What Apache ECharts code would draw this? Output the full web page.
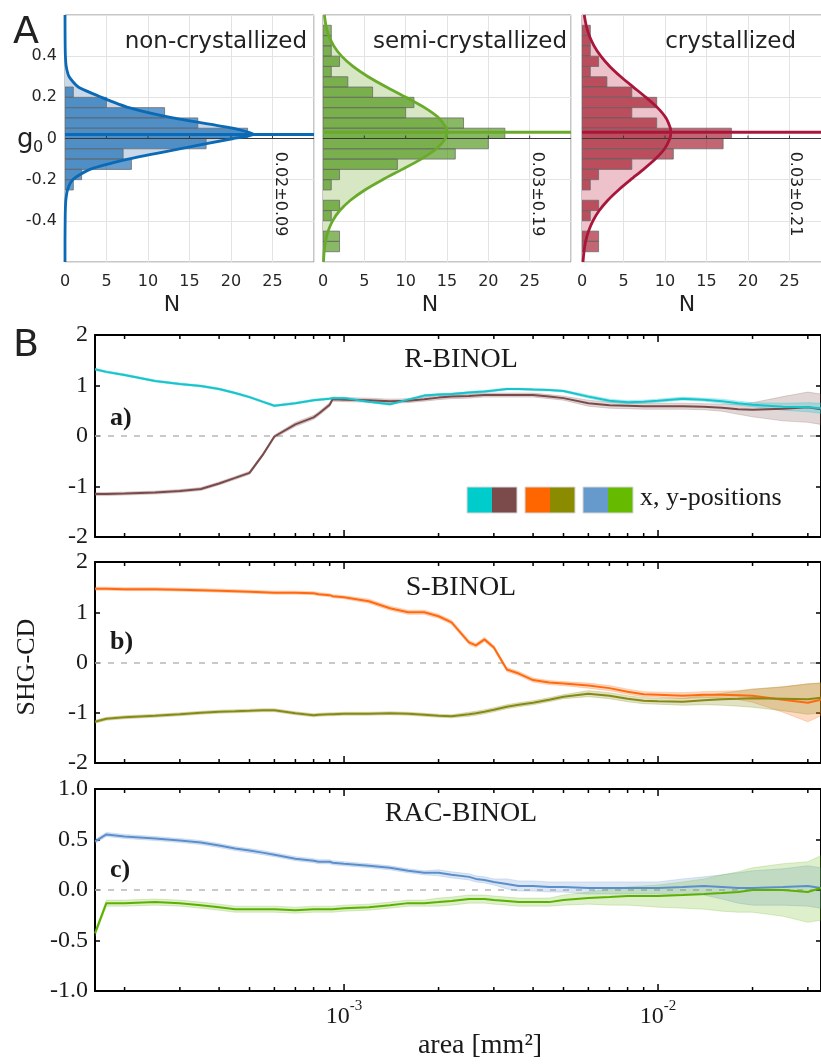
<!DOCTYPE html>
<html><head><meta charset="utf-8">
<script src="https://cdn.jsdelivr.net/npm/echarts@6/dist/echarts.min.js"></script>
<style>html,body{margin:0;padding:0;background:#fff}#c{width:821px;height:1064px}</style>
</head><body><div id="c"></div>
<script>
// ================= Panel A : histograms of g0 =================
const binEdges = [-0.6,-0.55,-0.5,-0.45,-0.4,-0.35,-0.3,-0.25,-0.2,-0.15,-0.1,-0.05,0,0.05,0.1,0.15,0.2,0.25,0.3,0.35,0.4,0.45,0.5,0.55,0.6];
const countsNon  = [0,0,0,0,0,0,0,1,2,8,7,17,22,16,12,5,1,0,0,0,0,0,0,0];
const countsSemi = [0,2,2,0,1,2,0,1,2,9,16,20,22,17,10,11,6,3,1,2,1,1,1,0];
const countsCry  = [0,2,2,0,1,2,0,1,2,6,11,17,18,9,6,9,6,3,1,2,1,1,1,0];
const fitYNon = [0.6,0.5,0.45,0.4,0.35,0.3,0.25,0.2,0.15,0.1,0.05,0.02,0,-0.05,-0.1,-0.15,-0.2,-0.25,-0.3,-0.35,-0.4,-0.5,-0.6];
const fitNNon = [0,0.01,0.02,0.05,0.15,0.5,1.6,4.4,7.7,13.0,20.2,22.8,20.3,13.8,7.6,3.0,0.93,0.3,0.1,0.04,0.02,0,0];
const fitY = [0.6,0.55,0.5,0.45,0.4,0.35,0.3,0.25,0.2,0.15,0.1,0.05,0.03,0,-0.05,-0.1,-0.15,-0.2,-0.25,-0.3,-0.35,-0.4,-0.45,-0.5,-0.55,-0.6];
const fitNSemi = [0.17,0.35,0.70,1.30,2.25,3.63,5.46,7.67,10.05,12.29,14.01,14.92,15,14.81,13.73,11.87,9.58,7.21,5.06,3.32,2.03,1.16,0.62,0.31,0.14,0.06];
const fitNCry  = [0.27,0.50,0.87,1.45,2.27,3.35,4.68,6.18,7.71,9.09,10.12,10.65,10.7,10.59,9.95,8.83,7.41,5.87,4.40,3.11,2.08,1.32,0.79,0.44,0.24,0.12];
const g0Mean = [0.02, 0.03, 0.03];
const g0Stats = ['0.02±0.09', '0.03±0.19', '0.03±0.21'];
const histTitles = ['non-crystallized', 'semi-crystallized', 'crystallized'];
const nTickVals = [5, 10, 15, 20, 25];

// ================= Panel B : SHG-CD vs area =================
const area = [1.61e-4,1.75e-4,2e-4,2.5e-4,3e-4,3.5e-4,4e-4,4.5e-4,5e-4,5.5e-4,6e-4,7e-4,8e-4,8.3e-4,9e-4,9.2e-4,1e-3,1.2e-3,1.4e-3,1.6e-3,1.8e-3,2e-3,2.2e-3,2.5e-3,2.63e-3,2.8e-3,3e-3,3.3e-3,3.6e-3,4e-3,4.5e-3,5e-3,6e-3,7e-3,8e-3,9e-3,1e-2,1.2e-2,1.4e-2,1.6e-2,1.8e-2,2e-2,2.5e-2,3e-2,3.3e-2];
const rBinolX = [1.32,1.27,1.21,1.09,1.03,0.99,0.93,0.85,0.77,0.68,0.60,0.65,0.71,0.72,0.74,0.75,0.75,0.68,0.63,0.72,0.80,0.82,0.83,0.86,0.87,0.88,0.90,0.93,0.93,0.92,0.91,0.89,0.78,0.70,0.67,0.68,0.70,0.74,0.72,0.69,0.65,0.62,0.58,0.57,0.55];
const rBinolXErr = [0.02,0.02,0.02,0.02,0.02,0.02,0.02,0.02,0.02,0.02,0.02,0.02,0.02,0.02,0.02,0.02,0.02,0.02,0.02,0.02,0.02,0.02,0.02,0.02,0.02,0.02,0.02,0.02,0.02,0.02,0.02,0.02,0.03,0.03,0.03,0.03,0.03,0.03,0.03,0.04,0.04,0.04,0.07,0.09,0.1];
const rBinolY = [-1.15,-1.15,-1.14,-1.12,-1.09,-1.05,-0.94,-0.83,-0.73,-0.38,-0.01,0.23,0.37,0.44,0.62,0.73,0.72,0.71,0.69,0.70,0.73,0.76,0.78,0.79,0.80,0.81,0.81,0.81,0.81,0.81,0.78,0.75,0.65,0.61,0.60,0.59,0.59,0.59,0.58,0.56,0.53,0.52,0.54,0.57,0.53];
const rBinolYErr = [0.03,0.03,0.03,0.03,0.03,0.03,0.03,0.03,0.03,0.03,0.03,0.04,0.04,0.04,0.04,0.04,0.04,0.04,0.04,0.04,0.04,0.04,0.04,0.04,0.04,0.04,0.04,0.04,0.04,0.04,0.04,0.04,0.06,0.06,0.06,0.06,0.06,0.06,0.06,0.07,0.1,0.14,0.24,0.3,0.3];
const sBinolX = [1.47,1.47,1.46,1.46,1.45,1.44,1.43,1.42,1.41,1.40,1.39,1.39,1.38,1.36,1.34,1.32,1.30,1.22,1.08,1.00,1.00,0.92,0.80,0.40,0.34,0.46,0.30,-0.14,-0.22,-0.35,-0.40,-0.42,-0.46,-0.51,-0.58,-0.63,-0.64,-0.66,-0.64,-0.64,-0.65,-0.66,-0.74,-0.80,-0.74];
const sBinolXErr = [0.03,0.03,0.03,0.03,0.03,0.03,0.03,0.03,0.03,0.03,0.03,0.03,0.03,0.03,0.03,0.03,0.03,0.04,0.04,0.04,0.04,0.04,0.04,0.04,0.04,0.04,0.04,0.04,0.04,0.04,0.04,0.04,0.05,0.05,0.05,0.05,0.05,0.06,0.06,0.07,0.09,0.13,0.25,0.38,0.32];
const sBinolY = [-1.18,-1.12,-1.09,-1.06,-1.03,-1.00,-0.98,-0.97,-0.96,-0.95,-0.95,-1.01,-1.05,-1.04,-1.03,-1.03,-1.02,-1.02,-1.01,-1.02,-1.04,-1.06,-1.07,-1.03,-1.01,-0.98,-0.94,-0.88,-0.84,-0.80,-0.74,-0.68,-0.62,-0.66,-0.72,-0.76,-0.77,-0.78,-0.75,-0.73,-0.72,-0.71,-0.72,-0.73,-0.70];
const sBinolYErr = [0.03,0.03,0.03,0.03,0.03,0.03,0.03,0.03,0.03,0.03,0.03,0.03,0.03,0.03,0.03,0.03,0.03,0.03,0.03,0.03,0.03,0.03,0.03,0.04,0.04,0.04,0.04,0.04,0.04,0.04,0.04,0.04,0.06,0.06,0.06,0.06,0.06,0.07,0.09,0.12,0.15,0.18,0.24,0.3,0.3];
const racBinolX = [0.48,0.55,0.53,0.51,0.49,0.47,0.44,0.41,0.39,0.37,0.35,0.31,0.29,0.28,0.28,0.27,0.26,0.24,0.22,0.19,0.17,0.17,0.15,0.13,0.11,0.10,0.08,0.06,0.04,0.04,0.03,0.03,0.02,0.02,0.02,0.02,0.02,0.03,0.04,0.03,0.02,0.02,0.03,0.04,0.02];
const racBinolXErr = [0.02,0.02,0.02,0.02,0.02,0.02,0.02,0.02,0.02,0.02,0.02,0.02,0.02,0.02,0.02,0.02,0.02,0.02,0.02,0.02,0.02,0.03,0.03,0.03,0.03,0.03,0.03,0.05,0.05,0.05,0.05,0.05,0.06,0.06,0.06,0.06,0.06,0.08,0.09,0.12,0.15,0.17,0.18,0.2,0.2];
const racBinolY = [-0.43,-0.13,-0.13,-0.12,-0.13,-0.15,-0.17,-0.19,-0.19,-0.19,-0.19,-0.20,-0.19,-0.19,-0.19,-0.19,-0.18,-0.17,-0.15,-0.13,-0.13,-0.12,-0.11,-0.09,-0.09,-0.09,-0.10,-0.11,-0.12,-0.12,-0.12,-0.10,-0.08,-0.07,-0.06,-0.06,-0.06,-0.05,-0.04,-0.03,-0.02,0.00,0.00,-0.02,0.02];
const racBinolYErr = [0.03,0.03,0.03,0.03,0.03,0.03,0.03,0.03,0.03,0.03,0.03,0.03,0.03,0.03,0.03,0.03,0.03,0.03,0.03,0.03,0.03,0.04,0.04,0.04,0.04,0.04,0.04,0.04,0.04,0.04,0.04,0.05,0.06,0.08,0.09,0.1,0.11,0.13,0.15,0.18,0.2,0.22,0.26,0.3,0.32];
const majorTicks = [1e-3, 1e-2];
const minorTicks = [2e-4,3e-4,4e-4,5e-4,6e-4,7e-4,8e-4,9e-4,2e-3,3e-3,4e-3,5e-3,6e-3,7e-3,8e-3,9e-3,2e-2,3e-2];
const panelNames = ['R-BINOL', 'S-BINOL', 'RAC-BINOL'];
const panelTags = ['a)', 'b)', 'c)'];

// ================= build =================
const SANS = 'DejaVu Sans';
const SERIF = 'Liberation Serif';
const chart = echarts.init(document.getElementById('c'), null, {renderer: 'canvas'});

const histStyle = [
  {pale: '#c9d9ea', bar: 'rgba(0,91,173,0.6)', line: '#0b6ab6'},
  {pale: '#d7e7c4', bar: 'rgba(60,138,0,0.6)', line: '#6aaa2a'},
  {pale: '#edc2cb', bar: 'rgba(152,0,20,0.6)', line: '#a8173b'}
];
const histCounts = [countsNon, countsSemi, countsCry];
const histFitY = [fitYNon, fitY, fitY];
const histFitN = [fitNNon, fitNSemi, fitNCry];
const histLeft = [65, 323, 582];
const histWidth = [249, 248, 249];

const grids = [], xAxes = [], yAxes = [], series = [];

for (let p = 0; p < 3; p++) {
  grids.push({left: histLeft[p], top: 15, width: histWidth[p], height: 247, show: true,
    borderColor: '#8f8f8f', borderWidth: 1, containLabel: false, outerBoundsMode: 'none'});
  xAxes.push({type: 'value', gridIndex: p, min: 0, max: 30, interval: 5,
    axisLine: {show: false}, axisTick: {show: false},
    splitLine: {show: true, lineStyle: {color: '#e3e3e3', width: 1}},
    axisLabel: {fontFamily: SANS, fontSize: 16, color: '#262626', margin: 12, showMaxLabel: false,
      formatter: v => (v >= 30 ? '' : String(v))}});
  yAxes.push({type: 'value', gridIndex: p, min: -0.6, max: 0.6, interval: 0.2,
    axisLine: {show: false}, axisTick: {show: false},
    splitLine: {show: true, lineStyle: {color: '#e3e3e3', width: 1}},
    axisLabel: {show: p === 0, fontFamily: SANS, fontSize: 16, color: '#262626', margin: 8,
      formatter: v => { const r = Math.round(v * 10) / 10; if (Math.abs(r) > 0.45) return ''; return r === 0 ? '0' : r.toFixed(1); }}});
  const ys = histFitY[p], ns = histFitN[p], st = histStyle[p], cnt = histCounts[p];
  // pale fit area
  series.push({type: 'custom', xAxisIndex: p, yAxisIndex: p, z: 1, silent: true, clip: true,
    data: [[0, 0]],
    renderItem: (params, api) => {
      const pts = [api.coord([0, ys[0]])];
      for (let k = 0; k < ys.length; k++) pts.push(api.coord([ns[k], ys[k]]));
      pts.push(api.coord([0, ys[ys.length - 1]]));
      return {type: 'polygon', shape: {points: pts}, style: {fill: st.pale}};
    }});
  // histogram bars
  series.push({type: 'custom', xAxisIndex: p, yAxisIndex: p, z: 2, silent: true, clip: true,
    data: cnt.map((c, i) => [c, (binEdges[i] + binEdges[i + 1]) / 2]),
    renderItem: (params, api) => {
      const i = params.dataIndex, c = cnt[i];
      if (!c) return;
      const a = api.coord([0, binEdges[i]]), b = api.coord([c, binEdges[i + 1]]);
      return {type: 'rect', shape: {x: a[0], y: b[1], width: b[0] - a[0], height: a[1] - b[1]},
        style: {fill: st.bar, stroke: '#6b6b6b', lineWidth: 0.8}};
    }});
  // zero line with small ticks
  series.push({type: 'line', xAxisIndex: p, yAxisIndex: p, z: 3, silent: true, symbol: 'none',
    data: [[0, 0], [30, 0]], lineStyle: {color: '#3a3a3a', width: 1}});
  series.push({type: 'custom', xAxisIndex: p, yAxisIndex: p, z: 3, silent: true, clip: true,
    data: nTickVals.map(v => [v, 0]),
    renderItem: (params, api) => {
      const pt = api.coord([nTickVals[params.dataIndex], 0]);
      return {type: 'line', shape: {x1: pt[0], y1: pt[1], x2: pt[0], y2: pt[1] - 3}, style: {stroke: '#3a3a3a', lineWidth: 1}};
    }});
  // fit curve
  series.push({type: 'line', xAxisIndex: p, yAxisIndex: p, z: 4, silent: true, symbol: 'none', smooth: 0.2,
    data: ns.map((n, k) => [n, ys[k]]), lineStyle: {color: st.line, width: 2.8}});
  // mean line
  series.push({type: 'line', xAxisIndex: p, yAxisIndex: p, z: 4, silent: true, symbol: 'none',
    data: [[0, g0Mean[p]], [30, g0Mean[p]]], lineStyle: {color: st.line, width: 3}});
}

// Panel B
const bTop = [335, 562, 789];
const bHeight = [202, 201, 202];
const bRange = [[-2, 2, 1], [-2, 2, 1], [-1, 1, 0.5]];
const bData = [
  [[rBinolY, rBinolYErr, '#7a4a4a', 'rgba(122,74,74,0.22)'], [rBinolX, rBinolXErr, '#17c4cb', 'rgba(23,196,203,0.28)']],
  [[sBinolX, sBinolXErr, '#ff6a10', 'rgba(255,106,16,0.25)'], [sBinolY, sBinolYErr, '#868a14', 'rgba(134,138,20,0.25)']],
  [[racBinolX, racBinolXErr, '#5b8fcc', 'rgba(91,143,204,0.22)'], [racBinolY, racBinolYErr, '#5cb000', 'rgba(92,176,0,0.2)']]
];
const AREA_MIN = 1.61e-4, AREA_MAX = 0.03304;

for (let q = 0; q < 3; q++) {
  const gi = 3 + q;
  grids.push({left: 95, top: bTop[q], width: 726, height: bHeight[q], show: false, containLabel: false, outerBoundsMode: 'none'});
  const xb = xAxes.length;
  xAxes.push({type: 'log', logBase: 10, gridIndex: gi, min: AREA_MIN, max: AREA_MAX, position: 'bottom',
    axisLine: {show: true, onZero: false, lineStyle: {color: '#000', width: 2}},
    axisTick: {show: false}, splitLine: {show: false}, minorTick: {show: false},
    axisLabel: {show: q === 2, margin: 8, showMinLabel: false, showMaxLabel: false,
      formatter: v => { const l = Math.log10(v); const r = Math.round(l); return Math.abs(l - r) < 1e-6 ? '{b|10}{s|' + r + '}' : ''; },
      rich: {b: {fontFamily: SERIF, fontSize: 24, color: '#1a1a1a', lineHeight: 30, verticalAlign: 'bottom'},
             s: {fontFamily: SERIF, fontSize: 15, color: '#1a1a1a', lineHeight: 30, verticalAlign: 'top'}}}});
  xAxes.push({type: 'log', logBase: 10, gridIndex: gi, min: AREA_MIN, max: AREA_MAX, position: 'top',
    axisLine: {show: true, onZero: false, lineStyle: {color: '#000', width: 2}},
    axisTick: {show: false}, splitLine: {show: false}, axisLabel: {show: false}});
  const yl = yAxes.length;
  const [mn, mx, iv] = bRange[q];
  yAxes.push({type: 'value', gridIndex: gi, min: mn, max: mx, interval: iv, position: 'left',
    axisLine: {show: true, onZero: false, lineStyle: {color: '#000', width: 2}},
    axisTick: {show: true, inside: true, length: 5, lineStyle: {color: '#000', width: 1.5}},
    splitLine: {show: false},
    axisLabel: {fontFamily: SERIF, fontSize: 24, color: '#1a1a1a', margin: 7,
      formatter: v => (q === 2 ? v.toFixed(1) : String(v))}});
  yAxes.push({type: 'value', gridIndex: gi, min: mn, max: mx, interval: iv, position: 'right',
    axisLine: {show: true, onZero: false, lineStyle: {color: '#000', width: 2}},
    axisTick: {show: true, inside: true, length: 5, lineStyle: {color: '#000', width: 1.5}},
    splitLine: {show: false}, axisLabel: {show: false}});

  // bands
  bData[q].forEach(([vals, errs, col, fill]) => {
    series.push({type: 'custom', xAxisIndex: xb, yAxisIndex: yl, z: 2, silent: true, clip: true,
      data: [[area[0], vals[0]]],
      renderItem: (params, api) => {
        const pts = [];
        for (let i = 0; i < area.length; i++) pts.push(api.coord([area[i], vals[i] + errs[i]]));
        for (let i = area.length - 1; i >= 0; i--) pts.push(api.coord([area[i], vals[i] - errs[i]]));
        return {type: 'polygon', shape: {points: pts}, style: {fill: fill, stroke: fill, lineWidth: 1}};
      }});
  });
  // lines
  bData[q].forEach(([vals, errs, col], k) => {
    const s = {type: 'line', xAxisIndex: xb, yAxisIndex: yl, z: 3, silent: true, symbol: 'none',
      data: area.map((a, i) => [a, vals[i]]), lineStyle: {color: col, width: 2}};
    if (k === 0) s.markLine = {silent: true, symbol: 'none', label: {show: false}, z: 1,
      lineStyle: {type: [6, 7], color: '#b8b8b8', width: 1.5}, data: [{yAxis: 0}]};
    series.push(s);
  });
  // log ticks (minor + major), inward on top and bottom
  series.push({type: 'custom', xAxisIndex: xb, yAxisIndex: yl, z: 5, silent: true, clip: false,
    data: [[1e-3, 0]],
    renderItem: (params, api) => {
      const ch = [];
      majorTicks.concat(minorTicks).forEach(t => {
        const len = majorTicks.includes(t) ? 7 : 4;
        const pb = api.coord([t, mn]), pt = api.coord([t, mx]);
        ch.push({type: 'line', shape: {x1: pb[0], y1: pb[1], x2: pb[0], y2: pb[1] - len}, style: {stroke: '#000', lineWidth: 1.5}});
        ch.push({type: 'line', shape: {x1: pt[0], y1: pt[1], x2: pt[0], y2: pt[1] + len}, style: {stroke: '#000', lineWidth: 1.5}});
      });
      return {type: 'group', children: ch};
    }});
}

// ================= text / decorations =================
const gfx = [];
const txt = (x, y, text, size, family, opts) => Object.assign({type: 'text', x: x, y: y, z: 100,
  style: Object.assign({text: text, fontSize: size, fontFamily: family, fill: '#1a1a1a',
    textAlign: 'left', textVerticalAlign: 'middle'}, (opts && opts.style) || {})}, (opts && opts.el) || {});

gfx.push(txt(13, 33, 'A', 38, SANS, {style: {fill: '#222'}}));
gfx.push(txt(13, 346, 'B', 38, SANS, {style: {fill: '#222'}}));
gfx.push(txt(17, 140, 'g', 26, SANS, {style: {fill: '#222'}}));
gfx.push(txt(33, 148, '0', 16, SANS, {style: {fill: '#222'}}));
const titleRight = [307, 567, 796];
const statX = [280, 537, 795];
const nX = [172, 430, 687];
for (let p = 0; p < 3; p++) {
  gfx.push(txt(titleRight[p], 42, histTitles[p], 23, SANS, {style: {textAlign: 'right', fill: '#222'}}));
  gfx.push(txt(statX[p], 194, g0Stats[p], 16, SANS, {style: {textAlign: 'center', fill: '#222'}, el: {rotation: -Math.PI / 2}}));
  gfx.push(txt(nX[p], 305, 'N', 22, SANS, {style: {textAlign: 'center', fill: '#222'}}));
}
const nameY = [360, 588, 814];
const tagY = [418, 642, 870];
for (let q = 0; q < 3; q++) {
  gfx.push(txt(461, nameY[q], panelNames[q], 28, SERIF, {style: {textAlign: 'center'}}));
  gfx.push(txt(110, tagY[q], panelTags[q], 26, SERIF, {style: {fontWeight: 'bold'}}));
}
gfx.push(txt(27, 667, 'SHG-CD', 26, SERIF, {style: {textAlign: 'center'}, el: {rotation: Math.PI / 2}}));
gfx.push(txt(480, 1046, 'area [mm²]', 28, SERIF, {style: {textAlign: 'center'}}));
// legend swatches
const swatches = [[467, '#00cccc'], [492, '#7b4b4b'], [525, '#ff6600'], [550, '#8b8b00'], [583, '#6699cc'], [608, '#66bb00']];
swatches.forEach(([x, c]) => gfx.push({type: 'rect', z: 100, shape: {x: x, y: 487, width: 25, height: 26}, style: {fill: c}}));
[467, 525, 583].forEach(x => gfx.push({type: 'rect', z: 101, shape: {x: x, y: 487, width: 50, height: 26}, style: {fill: 'none', stroke: '#d8d8d8', lineWidth: 1}}));
gfx.push(txt(640, 498, 'x, y-positions', 26, SERIF));

chart.setOption({
  animation: false,
  backgroundColor: '#fff',
  grid: grids, xAxis: xAxes, yAxis: yAxes, series: series,
  graphic: {elements: gfx}
});
</script></body></html>
